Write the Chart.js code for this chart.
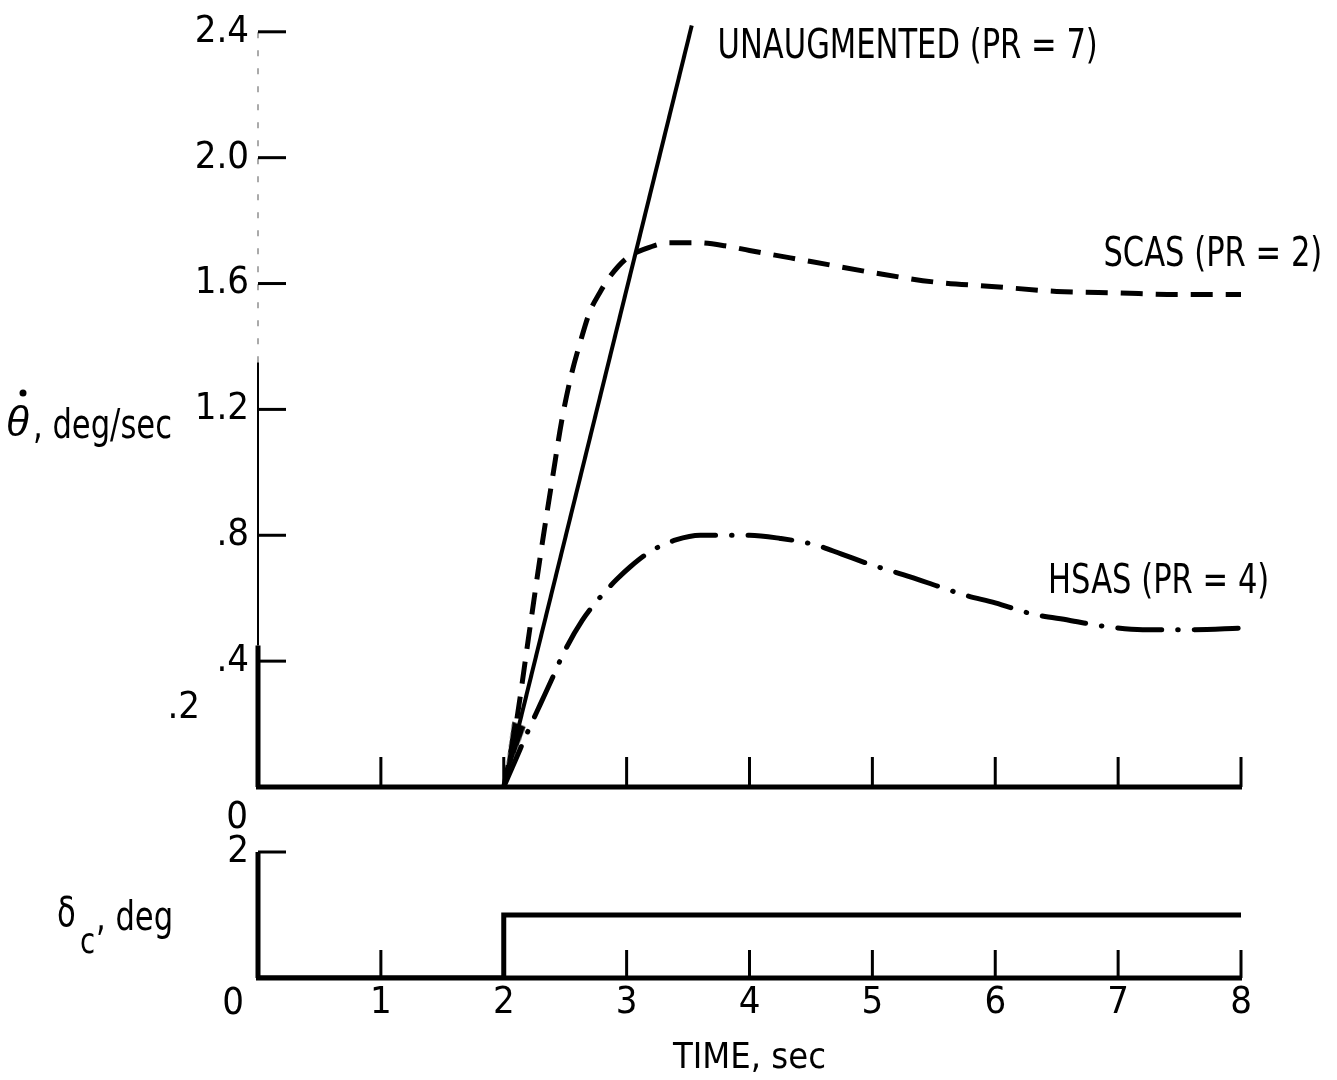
<!DOCTYPE html>
<html>
<head>
<meta charset="utf-8">
<script src="https://cdn.jsdelivr.net/npm/chart.js@4.4.1/dist/chart.umd.min.js"></script>
<style>
  body { margin: 0; background: #fff; }
  .box { position: absolute; left: 0; width: 1337px; }
  #top { top: 0; height: 840px; }
  #bot { top: 800px; height: 280px; }
</style>
</head>
<body>
<div class="box" id="top"><canvas id="rateChart"></canvas></div>
<div class="box" id="bot"><canvas id="stickChart"></canvas></div>
<script>
// time axis, sec
const timeTicks = [0, 1, 2, 3, 4, 5, 6, 7, 8];
const rateTicks = [0.4, 0.8, 1.2, 1.6, 2.0, 2.4];

// pitch rate responses, deg/sec
const unaugT = [2.0, 3.53];
const unaugV = [0, 2.42];

const scasT = [2.0, 2.1, 2.2, 2.3, 2.4, 2.47, 2.55, 2.62, 2.7, 2.78, 2.86, 3.0, 3.15, 3.35, 3.55, 3.8, 4.0, 4.5, 5.0, 5.5, 6.0, 6.5, 7.0, 7.5, 8.0];
const scasV = [0, 0.2, 0.47, 0.74, 0.99, 1.16, 1.31, 1.41, 1.51, 1.57, 1.62, 1.68, 1.71, 1.73, 1.73, 1.72, 1.705, 1.67, 1.635, 1.605, 1.59, 1.575, 1.57, 1.565, 1.565];

const hsasT = [2.0, 2.1, 2.2, 2.3, 2.4, 2.48, 2.64, 2.8, 2.92, 3.03, 3.2, 3.4, 3.6, 3.8, 4.0, 4.25, 4.53, 4.75, 5.0, 5.25, 5.55, 5.75, 6.0, 6.3, 6.6, 6.9, 7.2, 7.6, 8.0];
const hsasV = [0, 0.09, 0.18, 0.265, 0.35, 0.42, 0.53, 0.61, 0.66, 0.70, 0.75, 0.785, 0.80, 0.80, 0.80, 0.79, 0.77, 0.74, 0.705, 0.675, 0.636, 0.61, 0.585, 0.55, 0.53, 0.51, 0.50, 0.50, 0.505];

// arrowhead on the unaugmented trace
const arrowT = [2.063];
const arrowV = [0.104];

// stick input, deg
const stickT = [0, 2, 2, 8];
const stickV = [0, 0, 1, 1];

const curveNames = ['UNAUGMENTED (PR = 7)', 'SCAS (PR = 2)', 'HSAS (PR = 4)'];
const nameT = [3.74, 6.88, 6.43];
const nameV = [2.35, 1.69, 0.65];

const INK = '#000';
const FONT = '"Liberation Sans Narrow", "DejaVu Sans Condensed", Roboto, sans-serif';
const SIZE = 38;
const SQUEEZE = 0.85;

const toXY = (xs, ys) => xs.map((x, i) => ({x: x, y: ys[i]}));

const fmtRate = v => {
    const r = Math.round(v * 10) / 10;
    if (r === 0) return '';
    return r >= 1 ? r.toFixed(1) : r.toFixed(1).slice(1);
};

// condensed text: the original lettering is narrower than the fonts we have
const narrowText = (ctx, text, x, y, sx) => {
    ctx.save();
    ctx.translate(x, y);
    ctx.scale(sx, 1);
    ctx.fillText(text, 0, 0);
    ctx.restore();
};

// narrow arrowhead drawn once and used as a point style
const arrowImg = document.createElement('canvas');
arrowImg.width = 16;
arrowImg.height = 64;
(function() {
    const c = arrowImg.getContext('2d');
    c.fillStyle = INK;
    c.beginPath();
    c.moveTo(8, 64);
    c.lineTo(1, 0);
    c.lineTo(15, 2);
    c.closePath();
    c.fill();
})();

const line = (ctx, x1, y1, x2, y2) => {
    ctx.beginPath();
    ctx.moveTo(x1, y1);
    ctx.lineTo(x2, y2);
    ctx.stroke();
};

// axis frame with inward ticks, like the original plot
const axisPlugin = {
    id: 'axisLines',
    afterDatasetsDraw(chart, args, opts) {
        const {ctx} = chart;
        const xs = chart.scales.x, ys = chart.scales.y;
        const x0 = xs.getPixelForValue(0), y0 = ys.getPixelForValue(0);
        ctx.save();
        ctx.strokeStyle = INK;

        // left axis, piece by piece
        opts.leftAxis.forEach(seg => {
            ctx.lineWidth = seg.width;
            ctx.strokeStyle = seg.color || INK;
            ctx.setLineDash(seg.dash || []);
            line(ctx, x0, ys.getPixelForValue(seg.from), x0, ys.getPixelForValue(seg.to));
        });
        ctx.setLineDash([]);
        ctx.strokeStyle = INK;

        // bottom axis
        ctx.lineWidth = 5;
        line(ctx, x0 - 2, y0, xs.getPixelForValue(8) + 1, y0);

        // x ticks pointing up
        ctx.lineWidth = 3;
        timeTicks.slice(1).forEach(t => {
            const px = xs.getPixelForValue(t);
            line(ctx, px, y0, px, y0 - opts.xTickLen);
        });

        // y ticks pointing right
        opts.yTicks.forEach(v => {
            const py = ys.getPixelForValue(v);
            line(ctx, x0, py, x0 + 28, py);
        });

        // odd corner labels
        ctx.fillStyle = INK;
        ctx.font = SIZE + 'px ' + FONT;
        ctx.textBaseline = 'middle';
        (opts.extraLabels || []).forEach(l => {
            ctx.textAlign = l.align;
            ctx.fillText(l.text, x0 + l.dx, ys.getPixelForValue(l.v));
        });
        ctx.restore();
    }
};

const titlePlugin = {
    id: 'sideTitle',
    afterDraw(chart, args, opts) {
        const {ctx} = chart;
        ctx.save();
        ctx.fillStyle = INK;
        ctx.textBaseline = 'middle';
        ctx.textAlign = 'left';
        opts.parts.forEach(p => {
            ctx.font = (p.style || '') + ' ' + p.size + 'px ' + (p.family || FONT);
            narrowText(ctx, p.text, p.x, p.y, p.sx || SQUEEZE);
        });
        if (opts.dot) {
            ctx.beginPath();
            ctx.arc(opts.dot.x, opts.dot.y, 3.5, 0, Math.PI * 2);
            ctx.fill();
        }
        // curve names
        if (opts.names) {
            const xs = chart.scales.x, ys = chart.scales.y;
            ctx.font = '40px ' + FONT;
            curveNames.forEach((n, i) => {
                narrowText(ctx, n, xs.getPixelForValue(nameT[i]), ys.getPixelForValue(nameV[i]), SQUEEZE);
            });
        }
        ctx.restore();
    }
};

const tickFont = {family: FONT, size: SIZE};

new Chart('rateChart', {
    type: 'line',
    data: {
        datasets: [{
            label: 'Unaugmented',
            data: toXY(unaugT, unaugV),
            borderColor: INK,
            borderWidth: 4,
            pointRadius: 0,
            tension: 0,
            clip: false
        }, {
            label: 'SCAS',
            data: toXY(scasT, scasV),
            borderColor: INK,
            borderWidth: 5,
            borderDash: [22, 13],
            pointRadius: 0,
            cubicInterpolationMode: 'monotone'
        }, {
            label: 'HSAS',
            data: toXY(hsasT, hsasV),
            borderColor: INK,
            borderWidth: 5,
            borderDash: [44, 16, 0.5, 16],
            borderCapStyle: 'round',
            pointRadius: 0,
            cubicInterpolationMode: 'monotone'
        }, {
            label: 'arrow',
            data: toXY(arrowT, arrowV),
            showLine: false,
            pointStyle: arrowImg,
            rotation: 14,
            pointRadius: 8,
            clip: false
        }]
    },
    options: {
        responsive: true,
        maintainAspectRatio: false,
        animation: false,
        layout: {padding: {left: 0, right: 96, top: 25, bottom: 53}},
        scales: {
            x: {type: 'linear', display: false, min: 0, max: 8},
            y: {
                type: 'linear',
                min: 0,
                max: 2.4,
                afterFit(s) { s.width = 258; },
                grid: {display: false, drawTicks: false},
                border: {display: false},
                ticks: {stepSize: 0.4, padding: 9, color: INK, font: tickFont, callback: fmtRate}
            }
        },
        plugins: {
            legend: {display: false},
            tooltip: {enabled: false},
            axisLines: {
                xTickLen: 30,
                yTicks: rateTicks,
                leftAxis: [
                    {from: 0, to: 0.45, width: 5},
                    {from: 0.45, to: 1.35, width: 2},
                    {from: 1.35, to: 2.42, width: 2, color: '#aaa', dash: [6, 12]}
                ],
                extraLabels: [
                    {text: '.2', v: 0.25, dx: -58, align: 'right'},
                    {text: '0', v: -0.098, dx: -21, align: 'center'}
                ]
            },
            sideTitle: {
                parts: [
                    {text: 'θ', x: 6, y: 424, size: 42, style: 'italic', family: '"Liberation Sans", sans-serif', sx: 1},
                    {text: ', deg/sec', x: 33, y: 428, size: 40}
                ],
                dot: {x: 23, y: 393},
                names: true
            }
        }
    },
    plugins: [axisPlugin, titlePlugin]
});

new Chart('stickChart', {
    type: 'line',
    data: {
        datasets: [{
            label: 'Stick',
            data: toXY(stickT, stickV),
            borderColor: INK,
            borderWidth: 5,
            pointRadius: 0,
            tension: 0
        }]
    },
    options: {
        responsive: true,
        maintainAspectRatio: false,
        animation: false,
        layout: {padding: {left: 0, right: 96, top: 52, bottom: 0}},
        scales: {
            x: {
                type: 'linear',
                min: 0,
                max: 8,
                afterFit(s) { s.height = 102; },
                grid: {display: false, drawTicks: false},
                border: {display: false},
                ticks: {
                    stepSize: 1,
                    padding: 2,
                    autoSkip: false,
                    maxRotation: 0,
                    color: INK,
                    font: tickFont,
                    callback: v => v === 0 ? '' : String(v)
                },
                title: {display: true, text: 'TIME, sec', color: INK, font: {family: FONT, size: 36}, padding: {top: 0, bottom: 0}}
            },
            y: {
                type: 'linear',
                min: 0,
                max: 2,
                afterFit(s) { s.width = 258; },
                grid: {display: false, drawTicks: false},
                border: {display: false},
                ticks: {stepSize: 2, padding: 9, color: INK, font: tickFont, callback: v => v === 2 ? '2' : ''}
            }
        },
        plugins: {
            legend: {display: false},
            tooltip: {enabled: false},
            axisLines: {
                xTickLen: 28,
                yTicks: [2],
                leftAxis: [{from: 0, to: 2, width: 5}],
                extraLabels: [
                    {text: '0', v: -0.42, dx: -25, align: 'center'}
                ]
            },
            sideTitle: {
                parts: [
                    {text: 'δ', x: 57, y: 116, size: 40},
                    {text: 'c', x: 80, y: 144, size: 36},
                    {text: ', deg', x: 96, y: 120, size: 40}
                ]
            }
        }
    },
    plugins: [axisPlugin, titlePlugin]
});
</script>
</body>
</html>
